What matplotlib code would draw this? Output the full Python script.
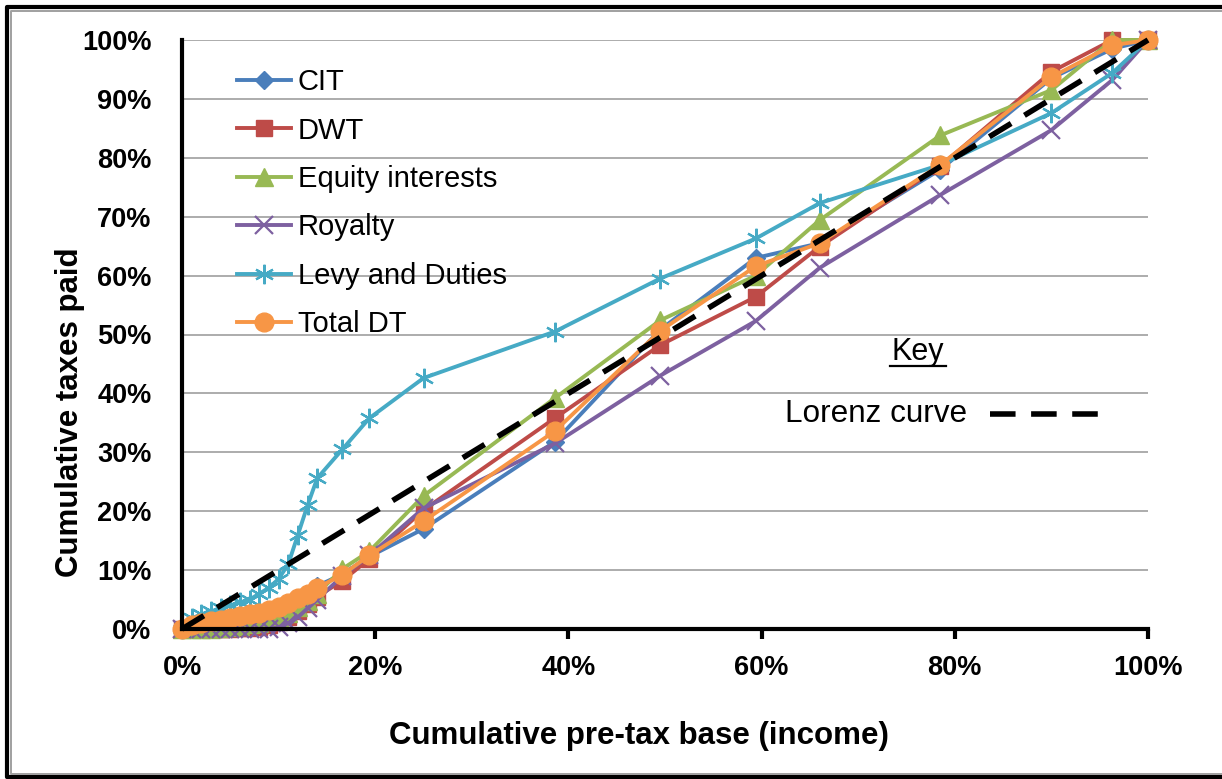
import matplotlib
matplotlib.use("Agg")
import matplotlib.pyplot as plt
from matplotlib.lines import Line2D

# cumulative share of pre-tax base (%), shared by every series
base_pct = [0, 1, 2, 3, 4, 5, 6, 7, 8, 9, 10, 11, 12, 13, 14,
            16.6, 19.4, 25, 38.6, 49.5, 59.4, 66, 78.5, 90, 96.3, 100]

# cumulative share of each tax paid (%)
cit = [0, 0.3, 0.6, 0.9, 1.2, 1.5, 1.8, 2.1, 2.4, 2.8, 3.3, 3.9, 4.8, 5.8, 7.3,
       9.3, 12.3, 17.0, 31.8, 50.8, 63.0, 65.5, 78.0, 93.5, 98.5, 100]
dwt = [0, 0, 0, 0, 0, 0, 0.1, 0.2, 0.4, 0.7, 1.2, 2.0, 3.0, 4.3, 5.5,
       8.2, 11.9, 20.2, 35.8, 48.2, 56.4, 64.9, 78.6, 94.6, 100, 100]
equity = [0, 0, 0, 0, 0.1, 0.3, 0.5, 0.8, 1.1, 1.5, 2.0, 2.8, 3.7, 4.8, 6.0,
          10.2, 13.2, 22.6, 39.2, 52.4, 60.0, 69.4, 83.8, 91.5, 100, 100]
royalty = [0, 0, 0, 0, 0, 0, 0, 0, 0, 0, 0.3, 1.0, 2.0, 3.5, 5.0,
           9.0, 12.5, 20.5, 31.5, 43.0, 52.3, 61.3, 73.7, 84.7, 93.2, 100]
levy = [0, 1.8, 2.5, 3.0, 3.5, 4.0, 4.5, 5.0, 6.0, 7.0, 8.5, 11.0, 16.0, 21.0, 25.6,
        30.5, 35.8, 42.6, 50.5, 59.5, 66.3, 72.3, 78.8, 87.6, 94.4, 100]
total_dt = [0, 0.6, 1.0, 1.3, 1.6, 1.9, 2.2, 2.5, 2.8, 3.2, 3.8, 4.4, 5.2, 6.0, 7.0,
            9.2, 12.5, 18.3, 33.6, 50.6, 61.6, 65.5, 78.8, 93.7, 99.1, 100]
lorenz = [0, 100]
lorenz_x = [0, 100]

x_ticks = [0, 20, 40, 60, 80, 100]
y_ticks = [0, 10, 20, 30, 40, 50, 60, 70, 80, 90, 100]

plt.rcParams["font.family"] = ["Liberation Sans", "DejaVu Sans"]

W, H = 1222, 779
fig = plt.figure(figsize=(W / 100, H / 100), dpi=100)
ax = fig.add_axes([182 / W, 1 - 629 / H, (1148 - 182) / W, (629 - 40) / H])

series = [
    ("CIT", cit, "#4A7EBB", dict(marker="D", ms=9.5)),
    ("DWT", dwt, "#BE4B48", dict(marker="s", ms=12)),
    ("Equity interests", equity, "#98B954", dict(marker="^", ms=13)),
    ("Royalty", royalty, "#7D60A0", dict(marker="x", ms=13, mew=1.6)),
    ("Levy and Duties", levy, "#46AAC5", dict(marker=(6, 2, 0), ms=14, mew=1.6)),
    ("Total DT", total_dt, "#F79646", dict(marker="o", ms=13.5)),
]
for label, vals, color, mk in series:
    ax.plot(base_pct, vals, color=color, lw=2.8, label=label, clip_on=False,
            mfc=color, mec=color, **mk)

dash = dict(color="black", lw=4.0, linestyle=(0, (4.6, 2.8)))
ax.plot(lorenz_x, lorenz, clip_on=False, zorder=5, **dash)

ax.set_xlim(0, 100)
ax.set_ylim(0, 100)
ax.set_xticks(x_ticks)
ax.set_xticklabels([f"{v}%" for v in x_ticks], fontsize=19.5, fontweight="bold")
ax.set_yticks(y_ticks)
ax.set_yticklabels([f"{v}%" for v in y_ticks], fontsize=19.5, fontweight="bold")
ax.tick_params(axis="x", length=7, width=3, pad=12)
ax.tick_params(axis="y", length=0, pad=22)
ax.grid(axis="y", color="#A6A6A6", lw=1.3)
ax.set_axisbelow(True)
for side in ["top", "right"]:
    ax.spines[side].set_visible(False)
for side in ["left", "bottom"]:
    ax.spines[side].set_linewidth(3)

leg = ax.legend(loc="upper left", bbox_to_anchor=(0.045, 0.972), frameon=False,
                fontsize=21, handlelength=1.85, handletextpad=0.22,
                labelspacing=0.70, borderaxespad=0)

# key for the reference Lorenz curve
ax.text(76.2, 47.0, "Key", fontsize=22, ha="center", va="center")
ax.plot([73.3, 79.1], [44.7, 44.7], color="black", lw=1.6, clip_on=False)
ax.text(81.3, 36.5, "Lorenz curve", fontsize=22.7, ha="right", va="center")
ax.plot([83.6, 94.8], [36.5, 36.5], clip_on=False, **dash)

fig.text(70 / W, 1 - 412 / H, "Cumulative taxes paid", rotation=90,
         fontsize=22.5, fontweight="bold", ha="center", va="center")
fig.text(639 / W, 1 - 736 / H, "Cumulative pre-tax base (income)",
         fontsize=22.5, fontweight="bold", ha="center", va="center")

# outer double frame, open on the right
def frame(off_l, off_t, off_b, color, lw):
    xs = [W + 10, off_l, off_l, W + 10]
    ys = [off_t, off_t, off_b, off_b]
    fig.add_artist(Line2D([x / W for x in xs], [1 - y / H for y in ys],
                          color=color, lw=lw, transform=fig.transFigure))

frame(6.5, 6.5, 777, "black", 3.0)
frame(11, 11, 774, "#A0A0A0", 1.4)

fig.savefig("out.png", dpi=100)
